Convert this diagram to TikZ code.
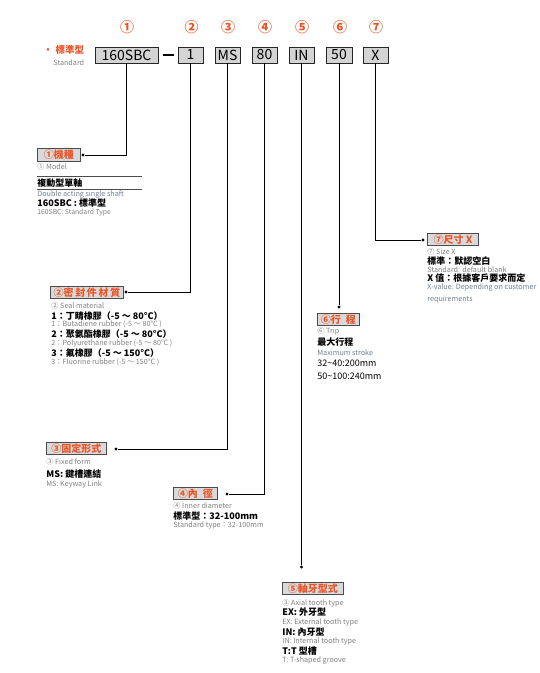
\documentclass[tikz,border=0pt]{standalone}
\usepackage{fontspec}
\setmainfont{Noto Sans CJK TC}
\definecolor{orangeL}{HTML}{EA5528}
\definecolor{greyT}{HTML}{808080}
\definecolor{blueT}{HTML}{6F7F92}

\begin{document}
\begin{tikzpicture}[x=1pt,y=-1pt,line width=0.8pt,
  code/.style={draw=black!85,fill=black!17,line width=0.9pt,minimum height=16,inner sep=0pt,font=\fontsize{14}{14}\selectfont},
  num/.style={text=orangeL,font=\bfseries\fontsize{14}{14}\selectfont},
  lbl/.style={draw=black!70,fill=black!15,line width=0.9pt,minimum height=12.5,inner sep=0pt,anchor=west,text=orangeL,font=\bfseries\fontsize{10}{10}\selectfont},
  capt/.style={anchor=west,inner sep=0pt,text=greyT,font=\fontsize{7.2}{7.2}\selectfont},
  txt/.style={anchor=west,inner sep=0pt,font=\bfseries\fontsize{9}{9}\selectfont},
  eng/.style={anchor=west,inner sep=0pt,text=greyT,font=\fontsize{7.2}{7.2}\selectfont},
  dot/.style={circle,fill,inner sep=0pt,minimum size=3.4}]
  \useasboundingbox (0,0) rectangle (540,673);
  % titulo
  \node[anchor=west,inner sep=0pt,text=orangeL,font=\bfseries\fontsize{9.5}{9.5}\selectfont] (std) at (43,50) {•\;標準型};
  \node[anchor=west,inner sep=0pt,text=greyT,font=\fontsize{7.2}{7.2}\selectfont] (stden) at (53,62.5) {Standard};
  % codigo
  \node[code,minimum width=63] (b1) at (126.5,55) {160SBC};
  \node[code,minimum width=25] (b2) at (190.5,55) {1};
  \node[code,minimum width=25] (b3) at (227.5,55) {MS};
  \node[code,minimum width=25] (b4) at (264.5,55) {80};
  \node[code,minimum width=25] (b5) at (301.5,55) {IN};
  \node[code,minimum width=26] (b6) at (339,55) {50};
  \node[code,minimum width=25] (b7) at (375.5,55) {X};
  \draw[line width=2pt] (b1.east) ++(5,0) -- ++(11,0);
  % numeros
  \node[num] (n1) at (127,27) {①};
  \node[num] (n2) at (191.5,27) {②};
  \node[num] (n3) at (228,27) {③};
  \node[num] (n4) at (265,27) {④};
  \node[num] (n5) at (302,27) {⑤};
  \node[num] (n6) at (340,27) {⑥};
  \node[num] (n7) at (376,27) {⑦};
  % puntos
  \node[dot] (d1) at (83,155) {};
  \node[dot] (d2) at (126,292) {};
  \node[dot] (d3) at (116,449) {};
  \node[dot] (d4) at (227,494) {};
  \node[dot] (d5) at (301.5,567) {};
  \node[dot] (d6) at (339,307) {};
  \node[dot] (d7) at (423,240) {};
  % lineas
  \draw (b1.south) |- (d1);
  \draw (b2.south) |- (d2);
  \draw (b3.south) |- (d3);
  \draw (b4.south) |- (d4);
  \draw (b5.south) -- (d5);
  \draw (b6.south) -- (d6);
  \draw (b7.south) |- (d7);
  % 1 modelo
  \node[lbl,minimum width=43] (l1) at (37,155) {①機種};
  \node[capt] (c1) at (37,167) {① Model};
  \draw[black!70,line width=0.7pt] (37,176) coordinate (r1a) -- (142,176) coordinate (r1b);
  \node[txt] (t1) at (37,183) {複動型單軸};
  \draw[black!70,line width=0.7pt] (37,189) coordinate (r2a) -- (142,189) coordinate (r2b);
  \node[eng,text=blueT] (e1) at (37,194.5) {Double acting single shaft};
  \node[txt] (t1b) at (37,203.5) {160SBC : 標準型};
  \node[eng,font=\fontsize{6.8}{6.8}\selectfont] (e1b) at (37,213) {160SBC: Standard Type};
  % 2 sello
  \node[lbl,minimum width=73] (l2) at (50,292.5) {②密\,封\,件\,材\,質};
  \node[capt] (c2) at (51,306) {② Seal material};
  \node[txt] (t2a) at (51,316) {1：丁睛橡膠（-5 ～ 80°C）};
  \node[eng] (e2a) at (51,324.5) {1：Butadiene rubber (-5 ～ 80°C )};
  \node[txt] (t2b) at (51,334.5) {2：聚氨酯橡膠（-5 ～ 80°C）};
  \node[eng] (e2b) at (51,343) {2：Polyurethane rubber (-5 ～ 80°C )};
  \node[txt] (t2c) at (51,353.5) {3：氟橡膠（-5 ～ 150°C）};
  \node[eng] (e2c) at (51,362.5) {3：Fluorine rubber (-5 ～ 150°C )};
  % 3 fijacion
  \node[lbl,minimum width=60] (l3) at (46,448.5) {③固定形式};
  \node[capt] (c3) at (46,462) {③ Fixed form};
  \node[txt] (t3) at (46,474) {MS: 鍵槽連結};
  \node[eng] (e3) at (46,484) {MS: Keyway Link};
  % 4 diametro
  \node[lbl,minimum width=44] (l4) at (173,493.5) {④內\enspace 徑};
  \node[capt] (c4) at (173,506) {④ Inner diameter};
  \node[txt] (t4) at (173,516) {標準型：32-100mm};
  \node[eng] (e4) at (173,525) {Standard type：32-100mm};
  % 5 rosca
  \node[lbl,minimum width=61] (l5) at (282,588.5) {⑤軸牙型式};
  \node[capt] (c5) at (282,603) {③ Axial tooth type};
  \node[txt] (t5a) at (282,612.5) {EX: 外牙型};
  \node[eng] (e5a) at (282,622) {EX: External tooth type};
  \node[txt] (t5b) at (282,632) {IN: 內牙型};
  \node[eng] (e5b) at (282,641) {IN: Internal tooth type};
  \node[txt] (t5c) at (282,651) {T:T 型槽};
  \node[eng] (e5c) at (282,660.5) {T: T-shaped groove};
  % 6 carrera
  \node[lbl,minimum width=42] (l6) at (317,319.5) {⑥行\enspace 程};
  \node[capt] (c6) at (317,331.5) {⑥ Trip};
  \node[txt] (t6) at (317,342) {最大行程};
  \node[eng,text=blueT] (e6) at (317,353) {Maximum stroke};
  \node[txt,font=\fontsize{9}{9}\selectfont] (t6a) at (317,363.5) {32\textasciitilde40:200mm};
  \node[txt,font=\fontsize{9}{9}\selectfont] (t6b) at (317,376) {50\textasciitilde100:240mm};
  % 7 tamano
  \node[lbl,minimum width=51] (l7) at (427,239.5) {⑦尺寸 X};
  \node[capt] (c7) at (427,252) {⑦ Size X};
  \node[txt] (t7a) at (427,261) {標準：默認空白};
  \node[eng] (e7a) at (427,269.5) {Standard: default blank};
  \node[txt] (t7b) at (427,278.5) {X 值：根據客戶要求而定};
  \node[eng,text=blueT] (e7b) at (427,288) {X-value: Depending on customer};
  \node[eng,text=blueT] (e7c) at (427,299.5) {requirements};
\end{tikzpicture}
\end{document}
